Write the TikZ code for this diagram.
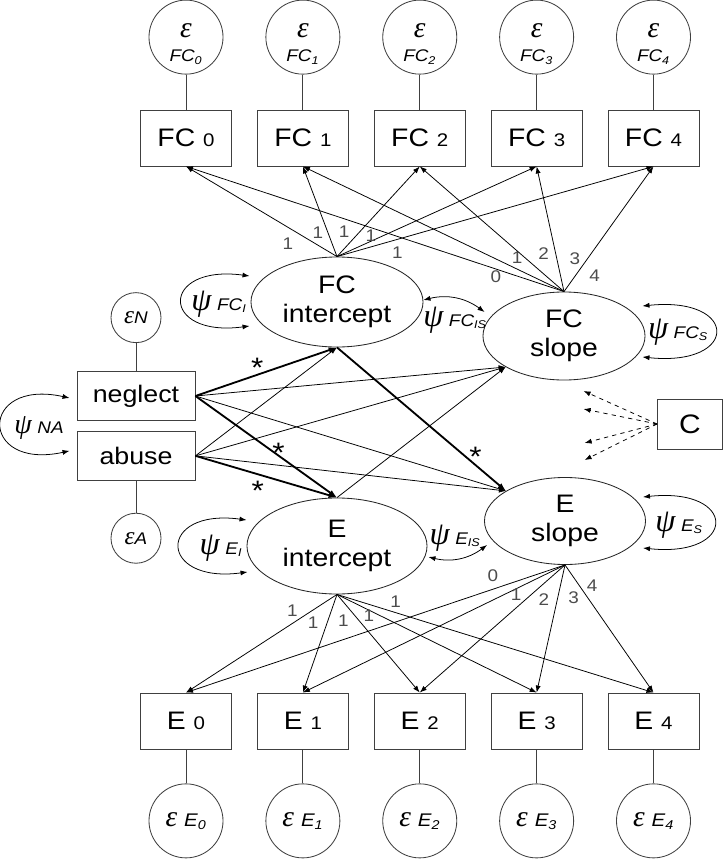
\documentclass[tikz,border=0pt]{standalone}
\usepackage{fontspec}
\setmainfont{Liberation Sans}[FakeStretch=1.12]
\newfontfamily\grk{Liberation Serif}
\usetikzlibrary{shapes.geometric, arrows.meta, positioning, calc}
\tikzset{
  obs/.style = {draw=black!75, line width=0.6pt, minimum width=2.275cm, minimum height=1.4cm, inner sep=0pt, font=\fontsize{18}{20}\selectfont},
  pred/.style = {draw=black!75, line width=0.6pt, minimum width=2.95cm, minimum height=1.225cm, inner sep=0pt, font=\fontsize{17}{19}\selectfont},
  latent/.style = {ellipse, draw=black!85, line width=0.6pt, inner sep=0pt, align=center, font=\fontsize{18}{21}\selectfont},
  err/.style = {circle, draw=black!75, line width=0.6pt, minimum size=1.85cm, inner sep=0pt, align=center},
  errsmall/.style = {circle, draw=black!75, line width=0.6pt, minimum size=1.25cm, inner sep=0pt},
  errline/.style = {draw=black!75, line width=0.6pt},
  load/.style = {-{Latex[length=5pt,width=3.6pt]}, line width=0.55pt},
  sig/.style = {-{Latex[length=6pt,width=4.2pt]}, line width=1.3pt},
  cov/.style = {{Latex[length=5pt,width=3.6pt]}-{Latex[length=5pt,width=3.6pt]}, line width=0.55pt},
  ctrl/.style = {-{Latex[length=5pt,width=3.6pt]}, dashed, line width=0.55pt},
  num/.style = {text=black!70, font=\fontsize{12}{12}\selectfont, inner sep=0pt},
  sigmark/.style = {font=\fontsize{20}{20}\selectfont, inner sep=0pt},
  psilbl/.style = {inner sep=0pt}
}
\newcommand{\boxlbl}[2]{#1 {\fontsize{13}{13}\selectfont #2}}
\newcommand{\psiof}[2]{{\grk\itshape\fontsize{23}{23}\selectfont ψ}\hspace{4pt}{\itshape\fontsize{12}{12}\selectfont #1\textsubscript{#2}}}
\newcommand{\errtop}[1]{\rule{0pt}{20pt}{\grk\itshape\fontsize{21}{21}\selectfont ε}\\[5pt]{\itshape\fontsize{12}{12}\selectfont FC\textsubscript{#1}}}
\newcommand{\errbot}[1]{{\grk\itshape\fontsize{21}{21}\selectfont ε}\hspace{5pt}{\itshape\fontsize{13}{13}\selectfont E\textsubscript{#1}}}
\newcommand{\errpred}[1]{{\grk\itshape\fontsize{18}{18}\selectfont ε}{\itshape\fontsize{12}{12}\selectfont #1}}

\begin{document}
\begin{tikzpicture}[x=0.025cm, y=-0.025cm]
\useasboundingbox (0,0) rectangle (725,860);

% FC indicators
\node[obs] (fc0) at (186,138) {\boxlbl{FC}{0}};
\node[obs, right=0.625cm of fc0] (fc1) {\boxlbl{FC}{1}};
\node[obs, right=0.625cm of fc1] (fc2) {\boxlbl{FC}{2}};
\node[obs, right=0.625cm of fc2] (fc3) {\boxlbl{FC}{3}};
\node[obs, right=0.625cm of fc3] (fc4) {\boxlbl{FC}{4}};

\node[err, above=0.875cm of fc0] (efc0) {\errtop{0}};
\node[err, above=0.875cm of fc1] (efc1) {\errtop{1}};
\node[err, above=0.875cm of fc2] (efc2) {\errtop{2}};
\node[err, above=0.875cm of fc3] (efc3) {\errtop{3}};
\node[err, above=0.875cm of fc4] (efc4) {\errtop{4}};

% E indicators
\node[obs] (e0) at (186,721) {\boxlbl{E}{0}};
\node[obs, right=0.625cm of e0] (e1) {\boxlbl{E}{1}};
\node[obs, right=0.625cm of e1] (e2) {\boxlbl{E}{2}};
\node[obs, right=0.625cm of e2] (e3) {\boxlbl{E}{3}};
\node[obs, right=0.625cm of e3] (e4) {\boxlbl{E}{4}};

\node[err, below=0.85cm of e0] (ee0) {\errbot{0}};
\node[err, below=0.85cm of e1] (ee1) {\errbot{1}};
\node[err, below=0.85cm of e2] (ee2) {\errbot{2}};
\node[err, below=0.85cm of e3] (ee3) {\errbot{3}};
\node[err, below=0.85cm of e4] (ee4) {\errbot{4}};

% growth factors
\node[latent, minimum width=4.3cm, minimum height=2.25cm] (fcint) at (337,302) {FC\\intercept};
\node[latent, minimum width=4.05cm, minimum height=2.2cm] (fcslope) at (564,336) {FC\\slope};
\node[latent, minimum width=4.5cm, minimum height=2.4cm] (eint) at (337,546) {E\\intercept};
\node[latent, minimum width=4.025cm, minimum height=2.175cm] (eslope) at (565,521) {E\\slope};

% predictors and covariate
\node[pred] (neglect) at (136,396) {neglect};
\node[pred, below=0.25cm of neglect] (abuse) {abuse};
\node[errsmall, above=0.7cm of neglect] (en) {\errpred{N}};
\node[errsmall, below=0.8cm of abuse] (ea) {\errpred{A}};
\node[obs, minimum width=1.625cm, minimum height=1.25cm, font=\fontsize{19}{19}\selectfont] (c) at (690,424) {C};

% residual lines
\draw[errline] (efc0) -- (fc0);
\draw[errline] (efc1) -- (fc1);
\draw[errline] (efc2) -- (fc2);
\draw[errline] (efc3) -- (fc3);
\draw[errline] (efc4) -- (fc4);
\draw[errline] (e0) -- (ee0);
\draw[errline] (e1) -- (ee1);
\draw[errline] (e2) -- (ee2);
\draw[errline] (e3) -- (ee3);
\draw[errline] (e4) -- (ee4);
\draw[errline] (en) -- (neglect);
\draw[errline] (abuse) -- (ea);

% FC loadings
\draw[load] (fcint.north) -- node[num, pos=0.14, shift={(-28,0)}] {1} (fc0.south);
\draw[load] (fcint.north) -- node[num, pos=0.27, shift={(-10,0)}] {1} (fc1.south);
\draw[load] (fcint.north) -- node[num, pos=0.28, shift={(-16,0)}] {1} (fc2.south);
\draw[load] (fcint.north) -- node[num, pos=0.23, shift={(-12,0)}] {1} (fc3.south);
\draw[load] (fcint.north) -- node[num, pos=0.2, shift={(-3,14)}] {1} (fc4.south);
\draw[load] (fcslope.north) -- node[num, pos=0.18, shift={(0,8)}] {0} (fc0.south);
\draw[load] (fcslope.north) -- node[num, pos=0.18, shift={(0,-11)}] {1} (fc1.south);
\draw[load] (fcslope.north) -- node[num, pos=0.3, shift={(23,0)}] {2} (fc2.south);
\draw[load] (fcslope.north) -- node[num, pos=0.26, shift={(18,0)}] {3} (fc3.south);
\draw[load] (fcslope.north) -- node[num, pos=0.13, shift={(19,0)}] {4} (fc4.south);

% E loadings
\draw[load] (eint.south) -- node[num, pos=0.17, shift={(-19,0)}] {1} (e0.north);
\draw[load] (eint.south) -- node[num, pos=0.29, shift={(-14,0)}] {1} (e1.north);
\draw[load] (eint.south) -- node[num, pos=0.27, shift={(-16,0)}] {1} (e2.north);
\draw[load] (eint.south) -- node[num, pos=0.22, shift={(-12,0)}] {1} (e3.north);
\draw[load] (eint.south) -- node[num, pos=0.185, shift={(0,-11)}] {1} (e4.north);
\draw[load] (eslope.south) -- node[num, pos=0.19, shift={(0,-14)}] {0} (e0.north);
\draw[load] (eslope.south) -- node[num, pos=0.19, shift={(1,6)}] {1} (e1.north);
\draw[load] (eslope.south) -- node[num, pos=0.27, shift={(18,0)}] {2} (e2.north);
\draw[load] (eslope.south) -- node[num, pos=0.26, shift={(16,0)}] {3} (e3.north);
\draw[load] (eslope.south) -- node[num, pos=0.16, shift={(13,0)}] {4} (e4.north);

% regressions
\draw[sig] (neglect.east) -- node[sigmark, pos=0.45, shift={(-2,-6)}] {*} (fcint.south);
\draw[load] (neglect.east) -- (fcslope.208);
\draw[sig] (neglect.east) -- node[sigmark, pos=0.58, shift={(1,-2)}] {*} (eint.north);
\draw[load] (neglect.east) -- (eslope.153);
\draw[load] (abuse.east) -- (fcint.south);
\draw[load] (abuse.east) -- (fcslope.208);
\draw[sig] (abuse.east) -- node[sigmark, pos=0.44, shift={(0,17)}] {*} (eint.north);
\draw[load] (abuse.east) -- (eslope.153);
\draw[sig] (fcint.south) -- node[sigmark, pos=0.82, shift={(0,-8)}] {*} (eslope.153);
\draw[load] (eint.north) -- (fcslope.208);

% covariate C
\coordinate (c-a) at ($(c.west)+(-73.5,-33)$);
\coordinate (c-b) at ($(c.west)+(-73.5,-15)$);
\coordinate (c-c) at ($(c.west)+(-72.5,19)$);
\coordinate (c-d) at ($(c.west)+(-72.5,36)$);
\draw[ctrl] (c.west) -- (c-a);
\draw[ctrl] (c.west) -- (c-b);
\draw[ctrl] (c.west) -- (c-c);
\draw[ctrl] (c.west) -- (c-d);

% variances and covariances
\coordinate (fci-a) at ($(fcint.west)+(-1,-26)$);
\coordinate (fci-b) at ($(fcint.west)+(-1,24)$);
\draw[cov] (fci-a) .. controls +(-90,-12) and +(-90,12) .. (fci-b);
\node[psilbl] (psifci) at (219,304) {\psiof{FC}{I}};

\coordinate (fcis-a) at ($(fcint.east)+(0,-2)$);
\coordinate (fcis-b) at ($(fcslope.west)+(2,-24)$);
\draw[cov] (fcis-a) to[bend left=25] (fcis-b);
\node[psilbl] (psifcis) at (455,320) {\psiof{FC}{IS}};

\coordinate (fcs-a) at ($(fcslope.east)+(-3,-30)$);
\coordinate (fcs-b) at ($(fcslope.east)+(-3,21)$);
\draw[cov] (fcs-a) .. controls +(97,-10) and +(97,10) .. (fcs-b);
\node[psilbl] (psifcs) at (678,332) {\psiof{FC}{S}};

\coordinate (ei-a) at ($(eint.west)+(0,-26)$);
\coordinate (ei-b) at ($(eint.west)+(1,26)$);
\draw[cov] (ei-a) .. controls +(-90,-12) and +(-90,12) .. (ei-b);
\node[psilbl] (psiei) at (221,548) {\psiof{E}{I}};

\coordinate (eis-a) at ($(eint.east)+(1,11)$);
\coordinate (eis-b) at ($(eslope.west)+(3,24)$);
\draw[cov] (eis-a) to[bend right=25] (eis-b);
\node[psilbl] (psieis) at (455,538) {\psiof{E}{IS}};

\coordinate (es-a) at ($(eslope.east)+(-3,-24)$);
\coordinate (es-b) at ($(eslope.east)+(-3,27)$);
\draw[cov] (es-a) .. controls +(95,-10) and +(95,10) .. (es-b);
\node[psilbl] (psies) at (679,525) {\psiof{E}{S}};

\coordinate (na-a) at ($(neglect.west)+(-7,2)$);
\coordinate (na-b) at ($(abuse.west)+(-7,-5)$);
\draw[cov] (na-a) .. controls +(-91,-20) and +(-91,20) .. (na-b);
\node[psilbl] (psina) at (39,428) {{\grk\itshape\fontsize{20}{20}\selectfont ψ}\hspace{4pt}{\itshape\fontsize{12}{12}\selectfont NA}};

\end{tikzpicture}
\end{document}
